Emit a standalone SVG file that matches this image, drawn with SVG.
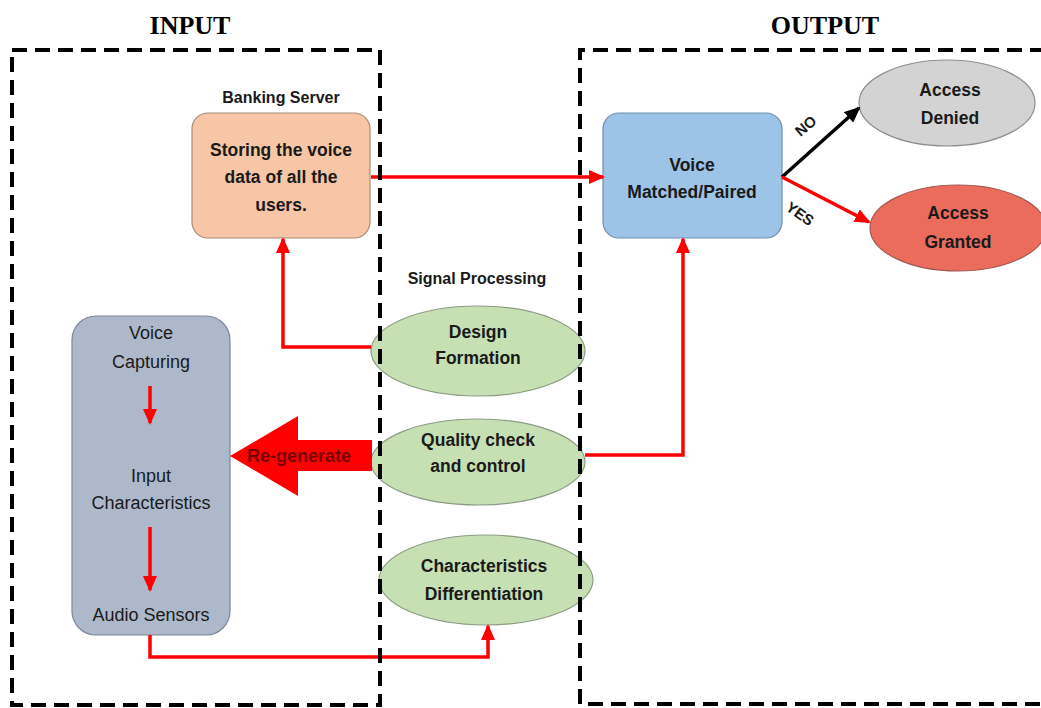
<svg xmlns="http://www.w3.org/2000/svg" width="1041" height="708" viewBox="0 0 1041 708">
<style>
.title{font-family:"Liberation Serif",serif;font-weight:bold;font-size:26px;fill:#000;text-anchor:middle}
.lbl{font-family:"Liberation Sans",sans-serif;font-weight:bold;font-size:16px;fill:#1a1a1a;text-anchor:middle}
.bt{font-family:"Liberation Sans",sans-serif;font-weight:bold;font-size:17.5px;fill:#1a1a1a;text-anchor:middle}
.rt{font-family:"Liberation Sans",sans-serif;font-size:18px;fill:#1a1a1a;text-anchor:middle}
.small{font-family:"Liberation Sans",sans-serif;font-weight:bold;font-size:15px;fill:#1a1a1a;text-anchor:middle}
.dash{fill:none;stroke:#000;stroke-width:4;stroke-dasharray:15 8}
.red{fill:none;stroke:#f00;stroke-width:3.5}
.ell{fill:#c6e0b4;stroke:#8c9c84;stroke-width:1.2}
</style>
<defs>
<marker id="ar" markerUnits="userSpaceOnUse" markerWidth="16" markerHeight="14" refX="14" refY="7" orient="auto">
<path d="M0,0 L16,7 L0,14 z" fill="#f00"/>
</marker>
<marker id="ab" markerUnits="userSpaceOnUse" markerWidth="16" markerHeight="14" refX="14" refY="7" orient="auto">
<path d="M0,0 L16,7 L0,14 z" fill="#000"/>
</marker>
</defs>
<rect width="1041" height="708" fill="#fff"/>

<g id="banking-server">
<text class="lbl" x="281" y="103">Banking Server</text>
<rect x="192" y="113" width="178" height="125" rx="16" fill="#f6c6a6" stroke="#a88b77" stroke-width="1.2"/>
<text class="bt" x="281" y="156">Storing the voice</text>
<text class="bt" x="281" y="183">data of all the</text>
<text class="bt" x="281" y="211">users.</text>
</g>

<g id="voice-matched">
<rect x="603" y="113" width="179" height="125" rx="16" fill="#9dc3e6" stroke="#6f8fae" stroke-width="1.2"/>
<text class="bt" x="692" y="171">Voice</text>
<text class="bt" x="692" y="198">Matched/Paired</text>
</g>

<g id="access-denied">
<ellipse cx="947" cy="103" rx="88" ry="43" fill="#d3d3d3" stroke="#8e8e8e" stroke-width="1.2"/>
<text class="bt" x="950" y="96">Access</text>
<text class="bt" x="950" y="124">Denied</text>
</g>

<g id="access-granted">
<ellipse cx="958" cy="228" rx="88" ry="43" fill="#eb6c5c" stroke="#a35a50" stroke-width="1.2"/>
<text class="bt" x="958" y="219">Access</text>
<text class="bt" x="958" y="248">Granted</text>
</g>

<g id="voice-capturing">
<rect x="72" y="316" width="158" height="319" rx="24" fill="#adb9ca" stroke="#7d8797" stroke-width="1.2"/>
<text class="rt" x="151" y="339">Voice</text>
<text class="rt" x="151" y="368">Capturing</text>
<text class="rt" x="151" y="482">Input</text>
<text class="rt" x="151" y="509">Characteristics</text>
<text class="rt" x="151" y="621">Audio Sensors</text>
</g>

<g id="signal-processing">
<text class="lbl" x="477" y="284">Signal Processing</text>
</g>

<g id="design-formation">
<ellipse class="ell" cx="478" cy="351" rx="107" ry="45"/>
<text class="bt" x="478" y="338">Design</text>
<text class="bt" x="478" y="364">Formation</text>
</g>

<g id="quality-check">
<ellipse class="ell" cx="478" cy="462" rx="107" ry="43"/>
<text class="bt" x="478" y="446">Quality check</text>
<text class="bt" x="478" y="472">and control</text>
</g>

<g id="characteristics-differentiation">
<ellipse class="ell" cx="486" cy="580" rx="107" ry="45"/>
<text class="bt" x="484" y="572">Characteristics</text>
<text class="bt" x="484" y="600">Differentiation</text>
</g>

<g id="connectors">
<line class="red" x1="371" y1="177" x2="603" y2="177" stroke-width="5" marker-end="url(#ar)"/>
<line x1="782" y1="177" x2="859" y2="108" stroke="#000" stroke-width="3.5" marker-end="url(#ab)"/>
<line class="red" x1="782" y1="177" x2="869" y2="222" marker-end="url(#ar)"/>
<polyline class="red" points="371,347 283,347 283,239" marker-end="url(#ar)"/>
<polyline class="red" points="585,455 683,455 683,239" marker-end="url(#ar)"/>
<polyline class="red" points="150,635 150,657 488,657 488,626" marker-end="url(#ar)"/>
<line class="red" x1="150" y1="386" x2="150" y2="423" marker-end="url(#ar)"/>
<line class="red" x1="150" y1="527" x2="150" y2="590" marker-end="url(#ar)"/>
<text class="small" transform="translate(809,130) rotate(-40)">NO</text>
<text class="small" transform="translate(797,218) rotate(35)">YES</text>
</g>

<g id="regenerate">
<polygon points="230,456 298,416 298,440 372,440 372,471 298,471 298,496" fill="#f00"/>
<text x="299" y="462" font-family="Liberation Sans, sans-serif" font-weight="bold" font-size="18" fill="#7a0000" text-anchor="middle">Re-generate</text>
</g>

<g id="input-container">
<text class="title" x="190" y="34">INPUT</text>
<rect class="dash" x="12" y="50" width="368" height="655"/>
</g>

<g id="output-container">
<text class="title" x="825" y="34">OUTPUT</text>
<path class="dash" d="M1045,50 H580 V704 H1045"/>
</g>
</svg>
